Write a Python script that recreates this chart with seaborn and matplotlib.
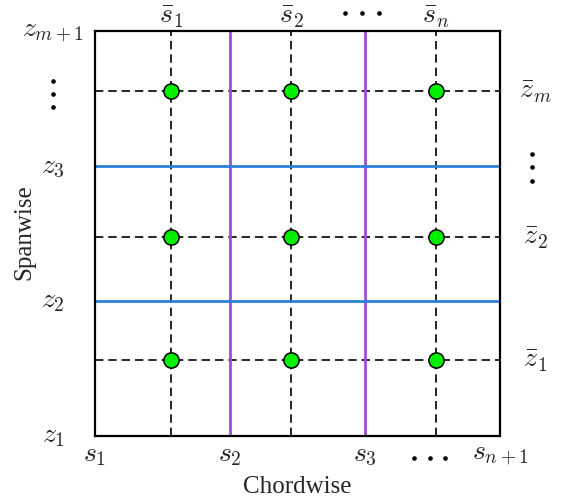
import matplotlib
matplotlib.use("Agg")
import matplotlib.pyplot as plt
import seaborn as sns
import pandas as pd
import numpy as np

# panel edges (chordwise s, spanwise z)
s_edges = [0.0, 1.0, 2.0, 3.0]
z_edges = [0.0, 1.0, 2.0, 3.0]
s_edge_labels = [r"$s_1$", r"$s_2$", r"$s_3$", r"$s_{n+1}$"]
z_edge_labels = [r"$z_1$", r"$z_2$", r"$z_3$", r"$z_{m+1}$"]

# collocation stations
s_bar = [0.563, 1.452, 2.526]
z_bar = [0.563, 1.474, 2.556]
s_bar_labels = [r"$\bar{s}_1$", r"$\bar{s}_2$", r"$\bar{s}_n$"]
z_bar_labels = [r"$\bar{z}_1$", r"$\bar{z}_2$", r"$\bar{z}_m$"]

sns.set_style("white")
plt.rcParams["mathtext.fontset"] = "cm"
plt.rcParams["font.family"] = ["Liberation Serif", "DejaVu Serif"]

fig = plt.figure(figsize=(5.65, 5.02), dpi=100)
ax = fig.add_axes([95/565, 1-437/502, 405/565, 405/502])

dash = (0, (5, 3))
for x in s_bar:
    ax.axvline(x, color="black", lw=1.2, ls=dash, zorder=1)
for y in z_bar:
    ax.axhline(y, color="black", lw=1.2, ls=dash, zorder=1)
for x in s_edges[1:-1]:
    ax.axvline(x, color="#9a4fd8", lw=2, zorder=2)
for y in z_edges[1:-1]:
    ax.axhline(y, color="#2a82d8", lw=2, zorder=2)

pts = pd.DataFrame([(x, y) for x in s_bar for y in z_bar], columns=["s", "z"])
sns.scatterplot(data=pts, x="s", y="z", ax=ax, color="#00ee00", edgecolor="black",
                linewidth=1.1, s=120, zorder=3, legend=False)

ax.set_xlim(s_edges[0], s_edges[-1])
ax.set_ylim(z_edges[0], z_edges[-1])
ax.set_xticks([])
ax.set_yticks([])
for sp in ax.spines.values():
    sp.set_color("black")
    sp.set_linewidth(1.6)
    sp.set_visible(True)

fs = 20
kw = dict(ha="center", va="center", fontsize=fs, clip_on=False)


def ellipsis(xc, yc, step, horizontal=True):
    off = np.array([-step, 0, step])
    xs = xc + off if horizontal else np.full(3, xc)
    ys = np.full(3, yc) if horizontal else yc + off
    ax.plot(xs, ys, ls="none", marker="o", ms=2.3, color="black", clip_on=False)


# bottom edge labels
for x, lab in zip(s_edges, s_edge_labels):
    ax.text(x, -0.14, lab, **kw)
ellipsis(2.48, -0.163, 0.115)
# left edge labels
for y, lab in zip(z_edges, z_edge_labels):
    ax.text(-0.31, y, lab, **kw)
ellipsis(-0.313, 2.533, 0.098, horizontal=False)
# top labels
for x, lab in zip(s_bar, s_bar_labels):
    ax.text(x, 3.11, lab, **kw)
ellipsis(1.98, 3.133, 0.125)
# right labels
for y, lab in zip(z_bar, z_bar_labels):
    ax.text(3.26, y, lab, **kw)
ellipsis(3.237, 1.99, 0.098, horizontal=False)

ax.text(1.5, -0.37, "Chordwise", ha="center", va="center", fontsize=18, clip_on=False)
ax.text(-0.52, 1.52, "Spanwise", ha="center", va="center", rotation=90, fontsize=18, clip_on=False)
ax.set_xlabel("")
ax.set_ylabel("")

fig.savefig("out.png", dpi=100)
